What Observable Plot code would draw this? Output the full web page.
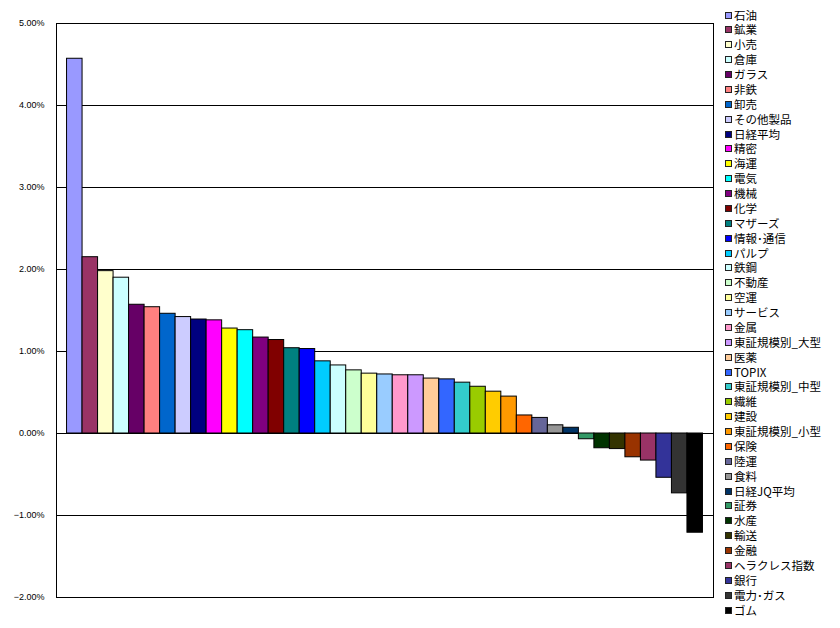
<!DOCTYPE html>
<html>
<head>
<meta charset="utf-8">
<script src="https://cdn.jsdelivr.net/npm/d3@7"></script>
<script src="https://cdn.jsdelivr.net/npm/@observablehq/plot@0.6"></script>
<style>
  html, body { margin: 0; padding: 0; background: #fff; }
  #wrap { position: relative; width: 840px; height: 628px; overflow: hidden; }
  #legend { position: absolute; left: 725px; top: 7.6px; font-family: "Noto Sans CJK JP", sans-serif; font-size: 11.5px; color: #000; }
  .row { display: flex; align-items: center; height: 14.875px; white-space: nowrap; }
  .sw { width: 5px; height: 5px; border: 1px solid #222; margin-right: 2px; flex: none; }
  .lt { display: inline-block; height: 14.875px; line-height: 14.875px; overflow: visible; }
</style>
</head>
<body>
<div id="wrap"></div>
<script>
const categories = ["石油","鉱業","小売","倉庫","ガラス","非鉄","卸売","その他製品","日経平均","精密","海運","電気","機械","化学","マザーズ","情報･通信","パルプ","鉄鋼","不動産","空運","サービス","金属","東証規模別_大型","医薬","TOPIX","東証規模別_中型","繊維","建設","東証規模別_小型","保険","陸運","食料","日経JQ平均","証券","水産","輸送","金融","ヘラクレス指数","銀行","電力･ガス","ゴム"];
const values = [4.57,2.15,1.98,1.90,1.57,1.54,1.46,1.42,1.39,1.38,1.28,1.26,1.17,1.14,1.04,1.03,0.88,0.83,0.77,0.73,0.72,0.71,0.71,0.67,0.66,0.62,0.57,0.51,0.45,0.22,0.19,0.10,0.07,-0.07,-0.18,-0.19,-0.29,-0.33,-0.54,-0.73,-1.21];
const palette = ["#9999FF","#993366","#FFFFCC","#CCFFFF","#660066","#FF8080","#0066CC","#CCCCFF","#000080","#FF00FF","#FFFF00","#00FFFF","#800080","#800000","#008080","#0000FF","#00CCFF","#CCFFFF","#CCFFCC","#FFFF99","#99CCFF","#FF99CC","#CC99FF","#FFCC99","#3366FF","#33CCCC","#99CC00","#FFCC00","#FF9900","#FF6600","#666699","#969696","#003366","#339966","#003300","#333300","#993300","#993366","#333399","#333333","#000000"];
const yTicks = [-2,-1,0,1,2,3,4,5];
const gridValues = [-1,0,1,2,3,4];

const data = categories.map((c, i) => ({category: c, value: values[i]}));

const chart = Plot.plot({
  width: 840,
  height: 628,
  marginTop: 23,
  marginBottom: 31,
  marginLeft: 56,
  marginRight: 127,
  style: {fontFamily: "Liberation Sans, Arial, sans-serif", fontSize: "9px", background: "#fff"},
  x: {domain: categories, axis: null, paddingInner: 0, paddingOuter: 0.68, round: false},
  y: {domain: [-2, 5], ticks: yTicks, tickFormat: d => d3.format(".2f")(d) + "%"},
  color: {domain: categories, range: palette},
  marks: [
    Plot.ruleY(gridValues, {stroke: "#000", strokeWidth: 1}),
    Plot.barY(data, {x: "category", y: "value", fill: "category", stroke: "#000", strokeWidth: 1}),
    Plot.frame({stroke: "#000", strokeWidth: 1}),
    Plot.axisY({ticks: yTicks, tickSize: 0, tickPadding: 12, label: null, fontSize: 9, tickFormat: d => d3.format(".2f")(d) + "%"})
  ]
});
const wrap = document.getElementById("wrap");
wrap.appendChild(chart);

const legend = document.createElement("div");
legend.id = "legend";
categories.forEach((c, i) => {
  const row = document.createElement("div");
  row.className = "row";
  const sw = document.createElement("span");
  sw.className = "sw";
  sw.style.background = palette[i];
  const t = document.createElement("span");
  t.className = "lt";
  t.textContent = c;
  row.appendChild(sw);
  row.appendChild(t);
  legend.appendChild(row);
});
wrap.appendChild(legend);
</script>
</body>
</html>
